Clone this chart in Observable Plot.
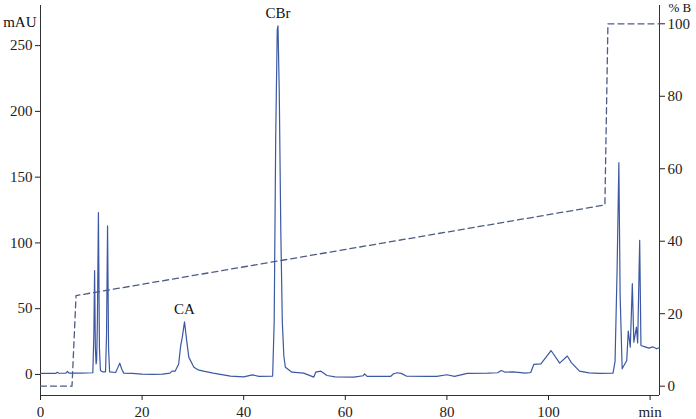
<!DOCTYPE html>
<html>
<head>
<meta charset="utf-8">
<script src="https://cdn.jsdelivr.net/npm/d3@7"></script>
<script src="https://cdn.jsdelivr.net/npm/@observablehq/plot@0.6"></script>
<style>
  html, body { margin: 0; padding: 0; background: #fff; }
  #chart { width: 696px; height: 419px; }
</style>
</head>
<body>
<div id="chart"></div>
<script>
// Chromatogram trace (time in min, absorbance in mAU)
const traceTime = [0, 2, 3.0, 3.3, 3.6, 5.0, 5.3, 5.6, 8, 10.3, 10.5, 10.65, 10.8, 10.95, 11.05, 11.2, 11.4, 11.6, 11.8, 12.2, 12.8, 13.0, 13.2, 13.4, 13.6, 14.8, 15.2, 15.6, 16.0, 16.4, 18, 20, 22, 24, 25.5, 25.9, 26.5, 27.2, 27.6, 27.9, 28.35, 28.8, 29.2, 30.2, 31, 32.1, 34, 37.4, 40, 41.7, 43, 45.7, 46.0, 46.3, 46.6, 46.75, 47.0, 47.3, 47.6, 47.9, 48.2, 49.5, 51.8, 53.8, 54.2, 55.2, 56.4, 58, 61.7, 63.5, 63.8, 64.3, 68.9, 69.5, 70.2, 71, 72, 76, 78, 80, 81.5, 84, 88, 90, 90.7, 91.5, 93, 95.5, 96.5, 97.1, 98.5, 100.5, 102.2, 103.7, 104.5, 106.1, 108, 110, 112.7, 113.1, 113.5, 113.85, 114.1, 114.5, 115.4, 115.7, 116.1, 116.5, 116.8, 117.3, 117.55, 117.95, 118.2, 119, 119.8, 120.5, 121.3, 121.85];
const traceMAU = [0.8, 0.8, 0.8, 1.6, 0.9, 1.0, 2.4, 1.0, 1.0, 1.3, 30, 79, 20, 8, 10.6, 40, 123, 20, 3, 2, 2, 30, 113, 20, 2, 1.5, 5, 8.6, 4, 1, 0.8, 0.3, 0, 0.2, 1, 2.5, 2.5, 8, 22, 28, 40, 25, 13, 5.5, 3.5, 2.5, 1, -1.3, -1.8, -0.3, -1.5, -1.2, 40, 180, 262, 265, 215, 110, 40, 14, 5.5, 1.7, 1, -2, 1.8, 2.5, -0.8, -1.8, -2, -1, 0.5, -1.5, -1.5, 0.5, 1.3, 0.8, -1.2, -1.5, -1.5, -0.2, -1.5, 0.8, 1, 1.3, 3, 1.7, 2, 1, 1.5, 7.6, 8, 18.2, 8.6, 14, 9, 2.5, 1.2, 0.8, 1, 10, 79, 161, 60, 4.3, 10.6, 33, 20.8, 69, 24.5, 36, 24, 102, 22, 21, 20, 21, 19.5, 20.5];

// Gradient program (% B)
const gradTime = [0, 6.2, 7.0, 111.1, 111.7, 121.85];
const gradB = [0, 0, 25, 50, 100, 100];

// Peak labels
const peakNames = ["CA", "CBr"];
const peakTime = [28.35, 46.75];
const peakMAU = [40, 265];

// Ticks
const xTicks = [0, 20, 40, 60, 80, 100, 120];
const yTicks = [0, 50, 100, 150, 200, 250];
const bTicks = [0, 20, 40, 60, 80, 100];

const xMax = 121.85;
const yMin = -16, yMax = 280.5;
// secondary axis (% B) mapped onto the mAU scale
const bOffset = -8.93, bScale = 2.7553;
const bToM = b => bOffset + bScale * b;
const mToB = m => Math.round((m - bOffset) / bScale);

const trace = traceTime.map((t, i) => ({t, m: traceMAU[i]}));
const grad = gradTime.map((t, i) => ({t, m: bToM(gradB[i])}));
const peaks = peakNames.map((name, i) => ({name, t: peakTime[i], m: peakMAU[i]}));

const font = "Liberation Serif, Times New Roman, serif";
const axisColor = "#333";

const chart = Plot.plot({
  width: 696,
  height: 419,
  marginLeft: 40,
  marginRight: 37,
  marginTop: 5,
  marginBottom: 24,
  style: {fontFamily: font, fontSize: "15px", color: "#222", background: "#fff"},
  x: {domain: [0, xMax]},
  y: {domain: [yMin, yMax]},
  marks: [
    Plot.ruleX([0], {stroke: axisColor, strokeWidth: 1}),
    Plot.ruleX([xMax], {stroke: axisColor, strokeWidth: 1}),
    Plot.ruleY([yMin], {stroke: axisColor, strokeWidth: 1}),
    Plot.axisX({ticks: xTicks, tickSize: 5, tickPadding: 6, label: null,
      tickFormat: d => d === 120 ? "min" : String(d), fontSize: 15}),
    Plot.axisY({anchor: "left", ticks: yTicks, tickSize: 5, tickPadding: 3, label: null, fontSize: 15}),
    Plot.axisY({anchor: "right", ticks: bTicks.map(bToM), tickSize: 5, tickPadding: 3, label: null,
      tickFormat: mToB, fontSize: 15}),
    Plot.line(grad, {x: "t", y: "m", stroke: "#4e5c85", strokeWidth: 1.3, strokeDasharray: "6,4"}),
    Plot.line(trace, {x: "t", y: "m", stroke: "#3c58a3", strokeWidth: 1.2}),
    Plot.text(peaks, {x: "t", y: "m", text: "name", dy: -13, fontSize: 15, fill: "#111"}),
    Plot.text(["mAU"], {frameAnchor: "top-left", dx: -4, dy: 11, textAnchor: "end", fontSize: 15, fill: "#111"}),
    Plot.text(["% B"], {frameAnchor: "top-right", dx: 9, dy: -3, lineAnchor: "top", textAnchor: "start", fontSize: 13, fill: "#111"})
  ]
});
document.getElementById("chart").appendChild(chart);
</script>
</body>
</html>
